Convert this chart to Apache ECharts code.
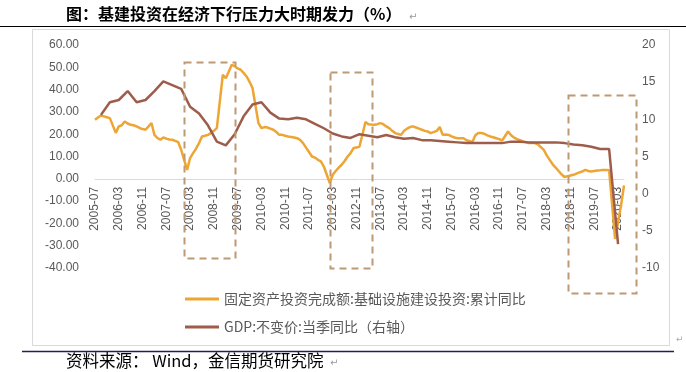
<!DOCTYPE html>
<html><head><meta charset="utf-8">
<script src="https://cdn.jsdelivr.net/npm/echarts@6/dist/echarts.min.js"></script>
<style>html,body{margin:0;padding:0;background:#fff;}#c{width:686px;height:372px;}</style>
</head><body><div id="c"></div>
<script>
// monthly categories 2005-07 .. 2020-05
const categories = [];
(function(){ let y = 2005, m = 7; while (!(y === 2020 && m === 6)) { categories.push(y + '-' + String(m).padStart(2, '0')); m++; if (m > 12) { m = 1; y++; } } })();

const infraName = '固定资产投资完成额:基础设施建设投资:累计同比';
const gdpName = 'GDP:不变价:当季同比（右轴）';

// cumulative YoY (%), January not published (null)
const infraValues = [
  26.5, 27.5, 28.4, 28.0, 27.6, 27.2,
  null, 20.6, 23.5, 24.0, 25.7, 24.8, 24.2, 24.0, 23.5, 22.8, 22.3, 22.0,
  null, 25.0, 19.7, 18.3, 17.5, 18.5, 18.0, 17.6, 17.5, 17.0, 16.4, 13.0,
  null, 4.0, 9.3, 11.5, 13.5, 16.0, 19.0, 19.3, 19.7, 20.5, 21.5, 22.7,
  null, 46.6, 45.1, 48.0, 51.1, 50.5, 49.5, 48.9, 47.5, 45.9, 43.5, 40.7,
  null, 25.0, 22.7, 23.2, 23.0, 22.5, 22.0, 21.0, 19.7, 19.7, 19.3, 19.0,
  null, 18.5, 18.2, 17.5, 16.0, 14.0, 12.0, 10.0, 9.5, 8.5, 7.8, 5.5,
  null, -1.9, 1.8, 3.5, 5.0, 6.3, 8.0, 10.0, 11.5, 13.8, 14.0, 14.5,
  null, 25.5, 24.5, 24.3, 24.2, 24.5, 25.0, 24.5, 23.5, 22.7, 21.5, 20.5,
  null, 19.7, 21.5, 22.5, 23.2, 23.5, 23.0, 22.5, 22.0, 21.5, 21.2, 20.5,
  null, 21.5, 23.2, 19.7, 19.9, 19.7, 19.0, 18.5, 18.2, 18.2, 18.2, 17.3,
  null, 16.5, 19.5, 20.5, 20.5, 20.2, 19.5, 19.0, 18.6, 18.2, 17.8, 17.2,
  null, 21.2, 19.5, 18.5, 17.8, 17.3, 16.8, 16.4, 16.0, 16.0, 16.0, 15.5,
  null, 13.0, 10.5, 8.5, 6.5, 5.0, 3.5, 2.0, 0.8, 1.2, 1.5, 1.8,
  null, 2.9, 3.3, 4.0, 3.5, 3.3, 3.5, 3.7, 3.8, 4.0, 4.0, 3.8,
  null, -27.0, -19.5, -12.0, -3.0
];

// quarterly GDP YoY (%), quarter-end months 2005-09 .. 2020-03
const gdpValues = [
  10.6, 12.3,
  12.6, 13.8, 12.3, 12.6,
  13.8, 15.1, 14.6, 14.1,
  11.7, 10.8, 9.2, 7.0,
  6.5, 8.0, 10.4, 12.0,
  12.3, 10.9, 10.1, 10.0,
  10.2, 10.0, 9.4, 8.8,
  8.1, 7.7, 7.5, 8.0,
  7.8, 7.6, 7.9, 7.6,
  7.4, 7.5, 7.2, 7.2,
  7.1, 7.0, 6.9, 6.8,
  6.8, 6.8, 6.8, 6.8,
  7.0, 7.0, 6.9, 6.9,
  6.9, 6.9, 6.8, 6.6,
  6.5, 6.3, 6.0, 6.0,
  -6.8
];
const gdpFirstMonth = '2005-09';

const leftAxis = { min: -40, max: 60, interval: 10 };
const rightAxis = { min: -10, max: 20, interval: 5 };

// annotation boxes: [start month, end month, left-axis top, left-axis bottom]
const boxes = [
  ['2008-01', '2009-06', 52.5, -35.5],
  ['2012-02', '2013-04', 48, -40],
  ['2018-10', '2020-09', 37.5, -51.5]
];

function monthIndex(s) { const p = s.split('-'); return (+p[0] - 2005) * 12 + (+p[1] - 7); }

const gdpSeries = categories.map(() => null);
const g0 = monthIndex(gdpFirstMonth);
gdpValues.forEach((v, i) => { gdpSeries[g0 + i * 3] = v; });

const gridTop = 45, gridHeight = 223;
// move the category axis up to the zero line of the left axis
const zeroOffset = -gridHeight * (0 - leftAxis.min) / (leftAxis.max - leftAxis.min);

const chart = echarts.init(document.getElementById('c'), null, { renderer: 'canvas' });
const txt = '#595959';
const numFont = 'Liberation Sans';
const cjk = '"Noto Sans CJK SC"';

chart.setOption({
  animation: false,
  backgroundColor: '#fff',
  grid: { left: 95, top: gridTop, width: 529, height: gridHeight },
  legend: [
    { data: [infraName], left: 180, top: 287, icon: 'rect', itemWidth: 34, itemHeight: 3,
      textStyle: { color: txt, fontSize: 14, fontFamily: cjk } },
    { data: [gdpName], left: 180, top: 315, icon: 'rect', itemWidth: 34, itemHeight: 3,
      textStyle: { color: txt, fontSize: 14, fontFamily: cjk } }
  ],
  xAxis: {
    type: 'category', data: categories, boundaryGap: false, position: 'bottom', offset: zeroOffset,
    axisLine: { onZero: false, lineStyle: { color: '#D9D9D9', width: 1 } },
    axisTick: { show: false },
    axisLabel: { interval: 7, rotate: 90, align: 'right', verticalAlign: 'middle', color: txt, fontSize: 12, fontFamily: numFont, margin: 8 },
    splitLine: { show: false }
  },
  yAxis: [
    { type: 'value', position: 'left', min: leftAxis.min, max: leftAxis.max, interval: leftAxis.interval,
      axisLine: { show: false }, axisTick: { show: false }, splitLine: { show: false },
      axisLabel: { color: txt, fontSize: 12, fontFamily: numFont, margin: 16, formatter: v => v.toFixed(2) } },
    { type: 'value', position: 'right', min: rightAxis.min, max: rightAxis.max, interval: rightAxis.interval,
      axisLine: { show: false }, axisTick: { show: false }, splitLine: { show: false },
      axisLabel: { color: txt, fontSize: 12, fontFamily: numFont, margin: 18 } }
  ],
  series: [
    { name: infraName, type: 'line', data: infraValues, yAxisIndex: 0, connectNulls: true,
      symbol: 'none', lineStyle: { color: '#EDA534', width: 2.5 }, itemStyle: { color: '#EDA534' } },
    { name: gdpName, type: 'line', data: gdpSeries, yAxisIndex: 1, connectNulls: true,
      symbol: 'none', lineStyle: { color: '#9E5D4B', width: 2.5 }, itemStyle: { color: '#9E5D4B' } }
  ],
  graphic: [
    { id: 'topline', type: 'line', shape: { x1: 0, y1: 26.5, x2: 686, y2: 26.5 }, style: { stroke: '#000', lineWidth: 1 } },
    { id: 'frame', type: 'rect', shape: { x: 32.5, y: 29.5, width: 637, height: 316 }, style: { fill: 'none', stroke: '#D9D9D9', lineWidth: 1 } },
    { id: 'title', type: 'text', x: 66, y: 14, style: { text: '图：基建投资在经济下行压力大时期发力（%）', font: 'bold 16px "Noto Sans CJK SC"', fill: '#000', verticalAlign: 'middle' } },
    { id: 'title_mark', type: 'text', x: 409, y: 17, style: { text: '↵', font: '10px "DejaVu Sans"', fill: '#999', verticalAlign: 'middle' } },
    { id: 'frame_mark', type: 'text', x: 676, y: 340, style: { text: '↵', font: '9px "DejaVu Sans"', fill: '#aaa', verticalAlign: 'middle' } },
    { id: 'footline', type: 'line', shape: { x1: 22, y1: 351.5, x2: 674, y2: 351.5 }, style: { stroke: '#1F1F5A', lineWidth: 1.5 } },
    { id: 'foot', type: 'text', x: 66, y: 361, style: { text: '资料来源： Wind，金信期货研究院', font: '16.5px "Noto Sans CJK SC"', fill: '#000', verticalAlign: 'middle' } },
    { id: 'foot_mark', type: 'text', x: 330, y: 363, style: { text: '↵', font: '10px "DejaVu Sans"', fill: '#999', verticalAlign: 'middle' } }
  ]
});

const boxGraphics = boxes.map((b, i) => {
  const p1 = chart.convertToPixel({ gridIndex: 0 }, [monthIndex(b[0]), b[2]]);
  const p2 = chart.convertToPixel({ gridIndex: 0 }, [monthIndex(b[1]), b[3]]);
  return { id: 'box' + i, type: 'rect', z: 50,
    shape: { x: Math.round(p1[0]) + 0.5, y: Math.round(p1[1]) + 0.5, width: Math.round(p2[0] - p1[0]), height: Math.round(p2[1] - p1[1]) },
    style: { fill: 'none', stroke: '#BD9A74', lineWidth: 2, lineDash: [7, 5] } };
});
chart.setOption({ graphic: boxGraphics });
</script></body></html>
